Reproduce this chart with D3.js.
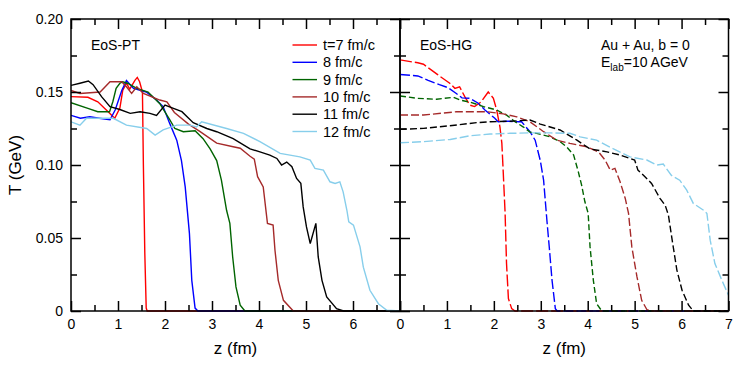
<!DOCTYPE html>
<html>
<head>
<meta charset="utf-8">
<script src="https://cdn.jsdelivr.net/npm/d3@7"></script>
<style>
  body { margin: 0; background: #fff; }
  svg text { font-family: "Liberation Sans", Arial, sans-serif; fill: #000; }
</style>
</head>
<body>
<div id="chart"></div>
<script>
// T(z) profiles, [z (fm), T (GeV)]
var ptT7 = [[0,0.1468],[0.36,0.1464],[0.57,0.1433],[0.79,0.1365],[0.93,0.132],[1.04,0.139],[1.1,0.151],[1.18,0.156],[1.25,0.152],[1.36,0.158],[1.41,0.160],[1.46,0.157],[1.52,0.15],[1.54,0.10],[1.57,0.04],[1.6,0.002],[1.62,0],[7,0]];
var ptT8 = [[0,0.134],[0.2,0.132],[0.4,0.133],[0.6,0.132],[0.83,0.131],[0.94,0.1377],[1.08,0.151],[1.18,0.1578],[1.33,0.1525],[1.6,0.150],[1.82,0.1445],[1.96,0.140],[2.1,0.1285],[2.25,0.117],[2.35,0.103],[2.43,0.085],[2.52,0.053],[2.57,0.021],[2.64,0.002],[2.7,0],[7,0]];
var ptT9 = [[0,0.1427],[0.36,0.1388],[0.57,0.1365],[0.82,0.1365],[0.89,0.1433],[0.96,0.1525],[1.04,0.156],[1.1,0.157],[1.2,0.156],[1.4,0.1525],[1.64,0.150],[1.89,0.142],[2.1,0.131],[2.21,0.125],[2.39,0.1228],[2.64,0.1235],[2.81,0.118],[2.96,0.111],[3.1,0.103],[3.2,0.0896],[3.31,0.069],[3.38,0.060],[3.44,0.037],[3.51,0.0165],[3.6,0.004],[3.7,0],[7,0]];
var ptT10 = [[0,0.151],[0.19,0.149],[0.62,0.150],[0.83,0.157],[1.08,0.157],[1.18,0.1536],[1.29,0.149],[1.4,0.1536],[1.54,0.149],[1.89,0.1445],[2.04,0.1433],[2.2,0.136],[2.5,0.128],[2.74,0.123],[3.1,0.115],[3.45,0.1125],[3.6,0.1115],[3.81,0.106],[3.9,0.104],[3.97,0.092],[4.09,0.085],[4.18,0.060],[4.3,0.0588],[4.34,0.0416],[4.41,0.021],[4.52,0.0073],[4.73,0],[7,0]];
var ptT11 = [[0,0.1545],[0.19,0.156],[0.37,0.1575],[0.47,0.155],[0.65,0.1468],[0.83,0.140],[1.04,0.138],[1.26,0.1354],[1.47,0.1365],[1.68,0.1354],[1.82,0.134],[2.0,0.141],[2.18,0.1388],[2.36,0.1365],[2.6,0.129],[2.89,0.125],[3.1,0.1228],[3.45,0.118],[3.81,0.111],[4.02,0.109],[4.23,0.1068],[4.38,0.1045],[4.48,0.100],[4.59,0.102],[4.7,0.0988],[4.8,0.0908],[4.89,0.0874],[4.94,0.0713],[5.01,0.0576],[5.09,0.0462],[5.21,0.060],[5.26,0.037],[5.34,0.021],[5.44,0.0096],[5.65,0.0016],[5.8,0],[7,0]];
var ptT12 = [[0,0.1296],[0.19,0.1273],[0.33,0.132],[0.9,0.132],[1.18,0.1273],[1.61,0.125],[1.79,0.1205],[1.96,0.124],[2.25,0.1273],[2.53,0.1273],[2.67,0.126],[2.78,0.1296],[3.31,0.125],[3.67,0.1217],[4.02,0.116],[4.45,0.108],[4.66,0.1068],[4.87,0.1056],[5.09,0.1034],[5.19,0.0977],[5.37,0.0965],[5.51,0.0885],[5.62,0.0874],[5.72,0.0885],[5.79,0.0816],[5.87,0.069],[5.91,0.061],[6.01,0.0588],[6.15,0.0439],[6.22,0.030],[6.36,0.0142],[6.54,0.005],[6.72,0.0005],[7,0]];

var hgT7 = [[0,0.172],[0.38,0.170],[0.5,0.169],[0.81,0.1617],[1.06,0.156],[1.17,0.1525],[1.27,0.1536],[1.38,0.1468],[1.49,0.141],[1.59,0.140],[1.73,0.1433],[1.88,0.150],[1.99,0.1457],[2.06,0.1377],[2.13,0.126],[2.17,0.115],[2.2,0.095],[2.24,0.0668],[2.27,0.0325],[2.31,0.0085],[2.38,0.0016],[2.45,0],[7,0]];
var hgT8 = [[0,0.162],[0.38,0.161],[0.6,0.158],[0.84,0.155],[1.02,0.153],[1.2,0.149],[1.32,0.146],[1.49,0.1457],[1.66,0.1425],[1.81,0.1377],[2.02,0.132],[2.09,0.1296],[2.3,0.130],[2.52,0.1296],[2.59,0.1296],[2.77,0.1228],[2.88,0.117],[2.99,0.103],[3.06,0.0896],[3.13,0.0622],[3.18,0.044],[3.24,0.021],[3.31,0.0016],[3.35,0],[7,0]];
var hgT9 = [[0,0.1473],[0.36,0.1457],[0.78,0.145],[1.14,0.1464],[1.28,0.1445],[1.5,0.143],[1.78,0.140],[2.06,0.1377],[2.28,0.134],[2.45,0.1296],[2.63,0.126],[2.77,0.1225],[2.91,0.1217],[3.2,0.1193],[3.41,0.116],[3.55,0.1125],[3.7,0.1068],[3.8,0.0953],[3.87,0.0862],[3.94,0.0748],[4.01,0.0668],[4.05,0.0439],[4.12,0.021],[4.19,0.005],[4.3,0],[7,0]];
var hgT10 = [[0,0.1342],[0.5,0.1342],[1.21,0.1365],[1.85,0.1365],[2.2,0.135],[2.49,0.133],[2.77,0.1296],[3.06,0.1228],[3.34,0.117],[3.62,0.1148],[3.98,0.1125],[4.23,0.109],[4.37,0.1034],[4.48,0.0965],[4.58,0.0977],[4.69,0.0885],[4.8,0.0771],[4.87,0.0668],[4.94,0.0439],[5.05,0.0233],[5.15,0.0073],[5.26,0.001],[5.35,0],[7,0]];
var hgT11 = [[0,0.1244],[0.5,0.1251],[1.21,0.1274],[1.63,0.129],[1.92,0.1296],[2.35,0.130],[2.77,0.1308],[2.99,0.128],[3.41,0.124],[3.77,0.117],[4.05,0.111],[4.41,0.109],[4.69,0.1068],[4.9,0.1045],[5.0,0.1034],[5.07,0.0965],[5.22,0.092],[5.36,0.0874],[5.54,0.0771],[5.65,0.0725],[5.72,0.0656],[5.8,0.0485],[5.9,0.028],[6.01,0.0142],[6.15,0.004],[6.25,0],[7,0]];
var hgT12 = [[0,0.1152],[0.5,0.116],[1.07,0.1175],[1.49,0.120],[1.92,0.1212],[2.35,0.1217],[2.77,0.122],[3.2,0.122],[3.62,0.1217],[3.84,0.1193],[4.19,0.117],[4.55,0.111],[4.9,0.1056],[5.26,0.1034],[5.47,0.100],[5.61,0.1006],[5.78,0.093],[5.96,0.0896],[6.11,0.0828],[6.25,0.0737],[6.47,0.069],[6.54,0.0668],[6.61,0.0485],[6.71,0.0325],[6.86,0.021],[7.0,0.0108]];

var legendLabels = ["t=7 fm/c", "8 fm/c", "9 fm/c", "10 fm/c", "11 fm/c", "12 fm/c"];
var colors = ["#ff0000", "#0000ff", "#006400", "#a52a2a", "#000000", "#87ceeb"];
var dashes = ["12,3", "10,3", "6,3", "8,3", "7,3", "9,3"];

var xTicks = [0, 1, 2, 3, 4, 5, 6, 7];
var xMinor = [0.5, 1.5, 2.5, 3.5, 4.5, 5.5, 6.5];
var yTicks = [0, 0.05, 0.10, 0.15, 0.20];
var yTickLabels = ["0", "0.05", "0.10", "0.15", "0.20"];
var yMinor = [0.025, 0.075, 0.125, 0.175];

var width = 747, height = 375;
var plotTop = 19, plotBottom = 311;

var svg = d3.select("#chart").append("svg")
    .attr("width", width)
    .attr("height", height);

var yScale = d3.scaleLinear().domain([0, 0.2]).range([plotBottom, plotTop]);

function drawPanel(x0, x1, series, dashed, showY, lastXLabel, id) {
  var xScale = d3.scaleLinear().domain([0, 7]).range([x0, x1]);
  var g = svg.append("g");

  svg.append("clipPath").attr("id", id)
    .append("rect").attr("x", x0).attr("y", plotTop).attr("width", x1 - x0).attr("height", plotBottom - plotTop + 1);

  var line = d3.line()
      .x(function(d) { return xScale(d[0]); })
      .y(function(d) { return yScale(d[1]); });

  g.append("g").attr("clip-path", "url(#" + id + ")")
    .selectAll("path")
    .data(series)
    .enter().append("path")
    .attr("d", line)
    .attr("fill", "none")
    .attr("stroke", function(d, i) { return colors[i]; })
    .attr("stroke-width", 1.4)
    .attr("stroke-dasharray", function(d, i) { return dashed ? dashes[i] : null; });

  // axes: ticks point inward on all four sides
  g.append("g")
    .attr("transform", "translate(0," + plotBottom + ")")
    .call(d3.axisBottom(xScale).tickValues(xTicks).tickSize(-10).tickPadding(8)
      .tickFormat(function(d) { return (d == 7 && !lastXLabel) ? "" : d; }));
  g.append("g").attr("transform", "translate(0," + plotBottom + ")")
    .call(d3.axisBottom(xScale).tickValues(xMinor).tickSize(-6).tickFormat(""));
  g.append("g").attr("transform", "translate(0," + plotTop + ")")
    .call(d3.axisTop(xScale).tickValues(xTicks).tickSize(-10).tickFormat(""));
  g.append("g").attr("transform", "translate(0," + plotTop + ")")
    .call(d3.axisTop(xScale).tickValues(xMinor).tickSize(-6).tickFormat(""));

  g.append("g").attr("transform", "translate(" + x0 + ",0)")
    .call(d3.axisLeft(yScale).tickValues(yTicks).tickSize(-10).tickPadding(8)
      .tickFormat(function(d, i) { return showY ? yTickLabels[i] : ""; }));
  g.append("g").attr("transform", "translate(" + x0 + ",0)")
    .call(d3.axisLeft(yScale).tickValues(yMinor).tickSize(-6).tickFormat(""));
  g.append("g").attr("transform", "translate(" + x1 + ",0)")
    .call(d3.axisRight(yScale).tickValues(yTicks).tickSize(-10).tickFormat(""));
  g.append("g").attr("transform", "translate(" + x1 + ",0)")
    .call(d3.axisRight(yScale).tickValues(yMinor).tickSize(-6).tickFormat(""));

  g.selectAll(".domain").remove();
  g.selectAll(".tick line").attr("stroke", "#000").attr("stroke-width", 1.5);
  g.selectAll(".tick text").style("font-size", "14px").attr("fill", "#000");

  g.append("rect")
    .attr("x", x0).attr("y", plotTop)
    .attr("width", x1 - x0).attr("height", plotBottom - plotTop)
    .attr("fill", "none").attr("stroke", "#000").attr("stroke-width", 1.5);

  g.append("text")
    .attr("x", (x0 + x1) / 2).attr("y", 354)
    .attr("text-anchor", "middle")
    .style("font-size", "17px")
    .text("z (fm)");

  return xScale;
}

drawPanel(71, 400, [ptT7, ptT8, ptT9, ptT10, ptT11, ptT12], false, true, false, "clipL");
drawPanel(400, 728.5, [hgT7, hgT8, hgT9, hgT10, hgT11, hgT12], true, false, true, "clipR");

svg.append("text")
  .attr("transform", "translate(21,165) rotate(-90)")
  .attr("text-anchor", "middle")
  .style("font-size", "17px")
  .text("T (GeV)");

svg.append("text").attr("x", 91).attr("y", 50).style("font-size", "14px").text("EoS-PT");
svg.append("text").attr("x", 420).attr("y", 50).style("font-size", "14px").text("EoS-HG");
svg.append("text").attr("x", 601).attr("y", 50).style("font-size", "14px").text("Au + Au, b = 0");
var eLab = svg.append("text").attr("x", 601).attr("y", 67).style("font-size", "14px");
eLab.append("tspan").text("E");
eLab.append("tspan").attr("dy", 4).style("font-size", "10px").text("lab");
eLab.append("tspan").attr("dy", -4).text("=10 AGeV");

var legend = svg.append("g").selectAll("g")
  .data(legendLabels)
  .enter().append("g")
  .attr("transform", function(d, i) { return "translate(0," + (45 + i * 17.3) + ")"; });
legend.append("line")
  .attr("x1", 292.5).attr("x2", 317).attr("y1", 0).attr("y2", 0)
  .attr("stroke", function(d, i) { return colors[i]; })
  .attr("stroke-width", 1.4);
legend.append("text")
  .attr("x", 323).attr("y", 5)
  .style("font-size", "14.5px")
  .text(function(d) { return d; });
</script>
</body>
</html>
